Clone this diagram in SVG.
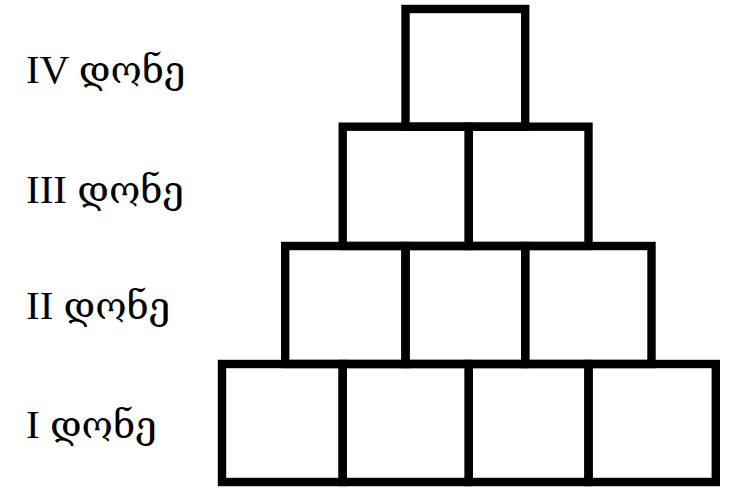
<svg xmlns="http://www.w3.org/2000/svg" width="756" height="488" viewBox="0 0 756 488">
<style>
.box{fill:none;stroke:#000;stroke-width:8.4;stroke-linejoin:miter}
.lbl{font-family:"Liberation Serif","DejaVu Serif",serif;font-size:41px;fill:#000}
.geo{font-family:"DejaVu Serif","Liberation Serif",serif;font-size:38px}
</style>
<rect width="756" height="488" fill="#fff"/>
<g id="labels">
<text class="lbl" x="26" y="82.7">IV <tspan class="geo">დონე</tspan></text>
<text class="lbl" x="26" y="202.7">III <tspan class="geo">დონე</tspan></text>
<text class="lbl" x="26" y="319.3">II <tspan class="geo">დონე</tspan></text>
<text class="lbl" x="26" y="437.7">I <tspan class="geo">დონე</tspan></text>
</g>
<g id="level4">
<g id="b4-1"><rect class="box" x="405.5" y="9" width="119.7" height="117.7"/></g>
</g>
<g id="level3">
<g id="b3-1"><rect class="box" x="342.7" y="126.7" width="126.1" height="119.3"/></g>
<g id="b3-2"><rect class="box" x="468.8" y="126.7" width="119.7" height="119.3"/></g>
</g>
<g id="level2">
<g id="b2-1"><rect class="box" x="285.2" y="246" width="120.3" height="118"/></g>
<g id="b2-2"><rect class="box" x="405.5" y="246" width="119.7" height="118"/></g>
<g id="b2-3"><rect class="box" x="525.2" y="246" width="126.3" height="118"/></g>
</g>
<g id="level1">
<g id="b1-1"><rect class="box" x="222" y="364" width="120.7" height="118"/></g>
<g id="b1-2"><rect class="box" x="342.7" y="364" width="126.1" height="118"/></g>
<g id="b1-3"><rect class="box" x="468.8" y="364" width="119.7" height="118"/></g>
<g id="b1-4"><rect class="box" x="588.5" y="364" width="127.3" height="118"/></g>
</g>
</svg>
